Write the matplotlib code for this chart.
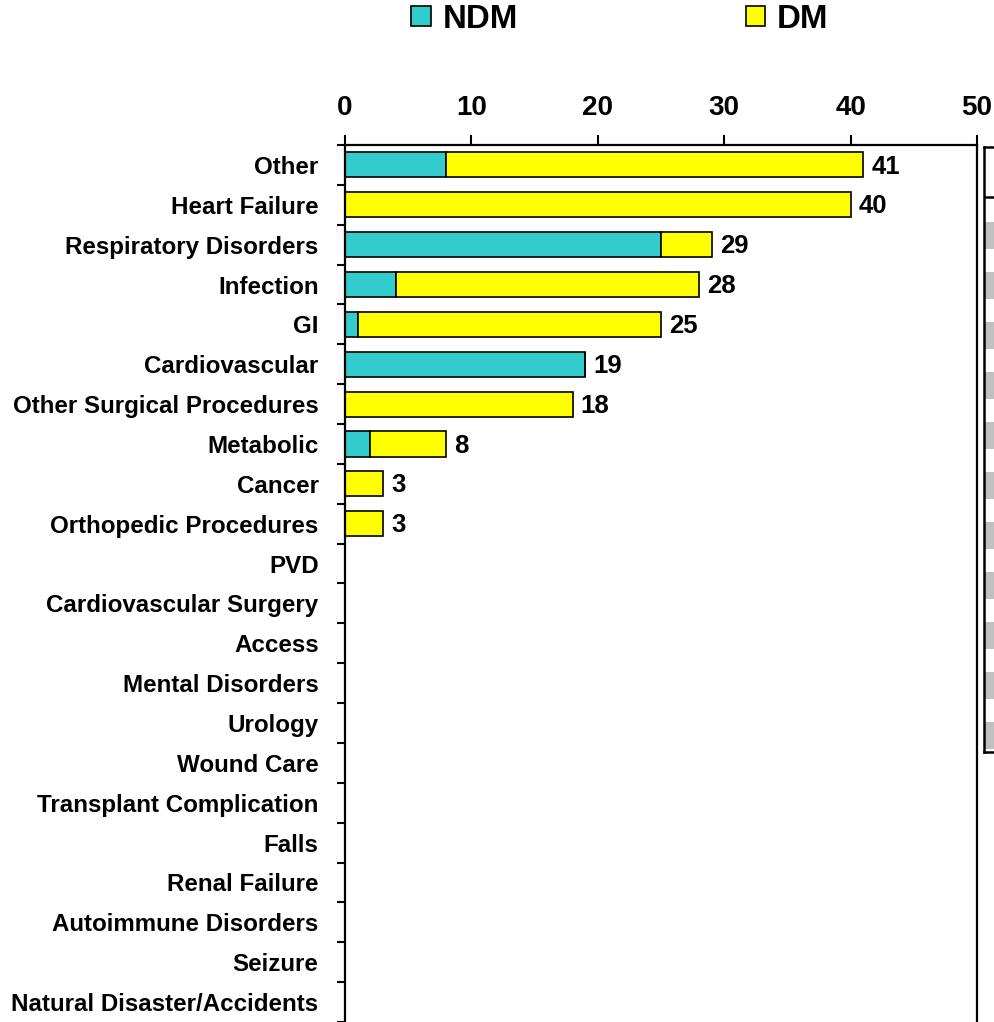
import matplotlib
matplotlib.use("Agg")
import matplotlib.pyplot as plt
from matplotlib.patches import Patch
import numpy as np

plt.rcParams['font.family'] = ['Liberation Sans', 'DejaVu Sans']
plt.rcParams['font.weight'] = 'bold'

categories = ["Other", "Heart Failure", "Respiratory Disorders", "Infection", "GI",
              "Cardiovascular", "Other Surgical Procedures", "Metabolic", "Cancer",
              "Orthopedic Procedures", "PVD", "Cardiovascular Surgery", "Access",
              "Mental Disorders", "Urology", "Wound Care", "Transplant Complication",
              "Falls", "Renal Failure", "Autoimmune Disorders", "Seizure",
              "Natural Disaster/Accidents"]
ndm = [8, 0, 25, 4, 1, 19, 0, 2, 0, 0, 0, 0, 0, 0, 0, 0, 0, 0, 0, 0, 0, 0]
dm = [33, 40, 4, 24, 24, 0, 18, 6, 3, 3, 0, 0, 0, 0, 0, 0, 0, 0, 0, 0, 0, 0]
xticks = [0, 10, 20, 30, 40, 50]

# clipped neighbour panel on the right edge (grey rows)
side_rows = 11

teal = "#33CCCC"
yellow = "#FFFF00"

W, H = 995, 1022
fig = plt.figure(figsize=(W / 100, H / 100), dpi=100)
ax = fig.add_axes([345 / W, 0, (977 - 345) / W, (H - 145) / H])

y = np.arange(len(categories))
ndm = np.array(ndm)
dm = np.array(dm)
total = ndm + dm
ax.barh(y, ndm, height=0.63, color=teal, edgecolor="black", linewidth=1.2)
ax.barh(y, dm, left=ndm, height=0.63, color=yellow, edgecolor="black", linewidth=1.2)
for yi, t in zip(y, total):
    if t > 0:
        ax.text(t + 0.65, yi + 0.04, str(t), va="center", ha="left", fontsize=18.5, fontweight="bold")

ax.set_xlim(0, 50)
ax.set_ylim(len(categories) - 0.5, -0.5)
ax.xaxis.tick_top()
ax.set_xticks(xticks)
ax.set_xticklabels([str(v) for v in xticks], fontsize=20, fontweight="bold")
ax.tick_params(axis="x", which="major", direction="out", length=7, width=1.5, pad=10)
ax.set_yticks(y)
ax.set_yticklabels(categories, fontsize=17.4, fontweight="bold")
ax.set_yticks(np.arange(len(categories) + 1) - 0.5, minor=True)
ax.tick_params(axis="y", which="major", length=0, pad=19)
ax.tick_params(axis="y", which="minor", direction="out", length=6, width=1.5)
for s in ["left", "top", "right"]:
    ax.spines[s].set_linewidth(1.6)
ax.spines["bottom"].set_visible(False)

# right side clipped panel
ax2 = fig.add_axes([984 / W, (H - 752) / H, 0.2, (752 - 147) / H])
ax2.set_xlim(0, 1)
ax2.set_ylim(10.6, -1.5)
ax2.barh(np.arange(side_rows) + 0.27, [1] * side_rows, height=0.54, color="#C0C0C0")
ax2.axhline(-0.5, color="black", linewidth=1.8)
ax2.set_xticks([])
ax2.set_yticks([])
for s in ax2.spines.values():
    s.set_linewidth(1.8)

handles = [Patch(facecolor=teal, edgecolor="black", linewidth=1.2, label="NDM"),
           Patch(facecolor=yellow, edgecolor="black", linewidth=1.2, label="DM")]
fig.legend(handles=handles, loc="center", bbox_to_anchor=(620 / W, 1 - 19 / H),
           ncol=2, frameon=False, prop={"size": 23.8, "weight": "bold"},
           handlelength=0.58, handleheight=0.58, handletextpad=0.36,
           columnspacing=6.9, borderpad=0)

fig.savefig("out.png", dpi=100)
